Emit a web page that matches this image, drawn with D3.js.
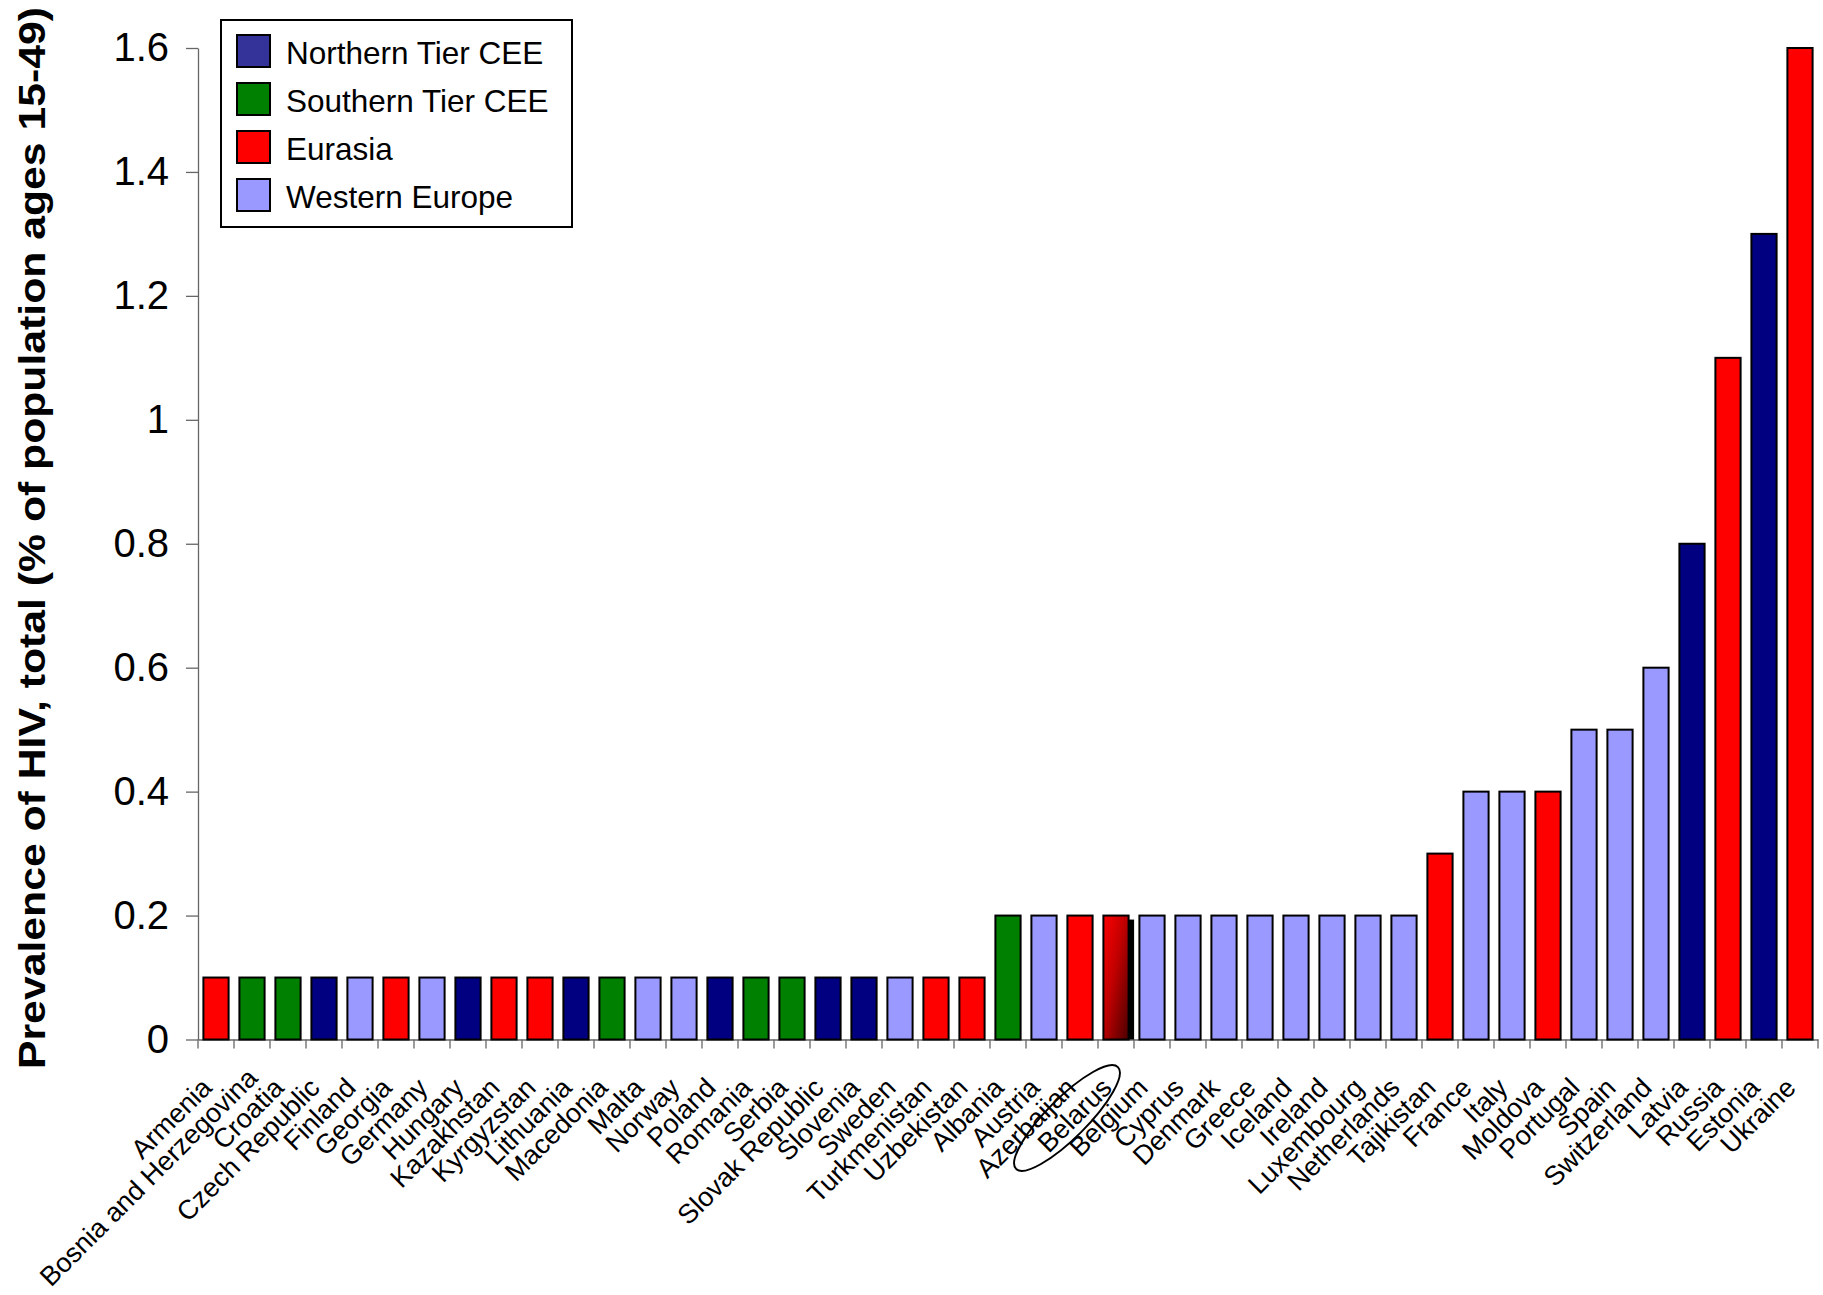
<!DOCTYPE html>
<html>
<head>
<meta charset="utf-8">
<script src="https://cdn.jsdelivr.net/npm/d3@7"></script>
<style>
  html, body { margin: 0; padding: 0; background: #fff; }
  svg { display: block; }
</style>
</head>
<body>
<svg id="chart" width="1823" height="1295"></svg>
<script>
// HIV prevalence by country, grouped into four regions
const countries = [
  "Armenia", "Bosnia and Herzegovina", "Croatia", "Czech Republic", "Finland",
  "Georgia", "Germany", "Hungary", "Kazakhstan", "Kyrgyzstan", "Lithuania",
  "Macedonia", "Malta", "Norway", "Poland", "Romania", "Serbia",
  "Slovak Republic", "Slovenia", "Sweden", "Turkmenistan", "Uzbekistan",
  "Albania", "Austria", "Azerbaijan", "Belarus", "Belgium", "Cyprus",
  "Denmark", "Greece", "Iceland", "Ireland", "Luxembourg", "Netherlands",
  "Tajikistan", "France", "Italy", "Moldova", "Portugal", "Spain",
  "Switzerland", "Latvia", "Russia", "Estonia", "Ukraine"
];

const prevalence = [
  0.1, 0.1, 0.1, 0.1, 0.1,
  0.1, 0.1, 0.1, 0.1, 0.1, 0.1,
  0.1, 0.1, 0.1, 0.1, 0.1, 0.1,
  0.1, 0.1, 0.1, 0.1, 0.1,
  0.2, 0.2, 0.2, 0.2, 0.2, 0.2,
  0.2, 0.2, 0.2, 0.2, 0.2, 0.2,
  0.3, 0.4, 0.4, 0.4, 0.5, 0.5,
  0.6, 0.8, 1.1, 1.3, 1.6
];

// 0 = Northern Tier CEE, 1 = Southern Tier CEE, 2 = Eurasia, 3 = Western Europe
const regionOf = [
  2, 1, 1, 0, 3,
  2, 3, 0, 2, 2, 0,
  1, 3, 3, 0, 1, 1,
  0, 0, 3, 2, 2,
  1, 3, 2, 2, 3, 3,
  3, 3, 3, 3, 3, 3,
  2, 3, 3, 2, 3, 3,
  3, 0, 2, 0, 2
];

const regionNames = ["Northern Tier CEE", "Southern Tier CEE", "Eurasia", "Western Europe"];

const yTickValues = [0, 0.2, 0.4, 0.6, 0.8, 1, 1.2, 1.4, 1.6];
const yTickLabels = ["0", "0.2", "0.4", "0.6", "0.8", "1", "1.2", "1.4", "1.6"];

const yTitle = "Prevalence of HIV, total (% of population ages 15-49)";
const highlighted = "Belarus";

// styling
const barFill = ["#000080", "#008000", "#FF0000", "#9999FF"];
const legendFill = ["#333399", "#008000", "#FF0000", "#9999FF"];
const FONT = "'Liberation Sans', Arial, Helvetica, sans-serif";
const AXIS = "#666";

const svg = d3.select("#chart");

const plot = { left: 198, right: 1818, top: 48, bottom: 1039.5 };

const x = d3.scaleBand()
  .domain(countries)
  .range([plot.left, plot.right])
  .paddingInner(0.3)
  .paddingOuter(0.15);

const y = d3.scaleLinear()
  .domain([0, 1.6])
  .range([plot.bottom, plot.top]);

const rows = countries.map((c, i) => ({ country: c, value: prevalence[i], region: regionOf[i] }));

// gradient for the emphasised bar
const defs = svg.append("defs");
const grad = defs.append("linearGradient")
  .attr("id", "emph")
  .attr("x1", 0).attr("y1", 0).attr("x2", 1).attr("y2", 1);
grad.append("stop").attr("offset", "0%").attr("stop-color", "#FF0000");
grad.append("stop").attr("offset", "45%").attr("stop-color", "#C00000");
grad.append("stop").attr("offset", "100%").attr("stop-color", "#4A0000");

// y axis
const yAxis = svg.append("g")
  .attr("transform", `translate(${plot.left},0)`)
  .call(d3.axisLeft(y)
    .tickValues(yTickValues)
    .tickFormat((d, i) => yTickLabels[i])
    .tickSize(12)
    .tickSizeOuter(0)
    .tickPadding(17));
yAxis.select(".domain").attr("stroke", AXIS).attr("stroke-width", 1.3);
yAxis.selectAll(".tick line").attr("stroke", AXIS).attr("stroke-width", 1.3);
yAxis.selectAll(".tick text")
  .attr("font-family", FONT)
  .attr("font-size", 40)
  .attr("fill", "#000");

// x axis line and category boundary ticks
const xAxis = svg.append("g")
  .attr("transform", `translate(0,${plot.bottom})`)
  .call(d3.axisBottom(x).tickSize(0).tickSizeOuter(0).tickFormat(""));
xAxis.select(".domain").attr("stroke", AXIS).attr("stroke-width", 1.3);
xAxis.selectAll(".tick").remove();
const bounds = d3.range(countries.length + 1).map(i => x.range()[0] + i * x.step());
xAxis.selectAll("line.bound")
  .data(bounds)
  .join("line")
  .attr("class", "bound")
  .attr("x1", d => d).attr("x2", d => d)
  .attr("y1", 0).attr("y2", 9)
  .attr("stroke", AXIS)
  .attr("stroke-width", 1.3);

// shadow behind the emphasised bar
svg.append("g")
  .selectAll("rect")
  .data(rows.filter(d => d.country === highlighted))
  .join("rect")
  .attr("x", d => x(d.country) + 5.5)
  .attr("y", d => y(d.value) + 4)
  .attr("width", x.bandwidth())
  .attr("height", d => y(0) - y(d.value) - 4)
  .attr("fill", "#000");

// bars
svg.append("g")
  .selectAll("rect")
  .data(rows)
  .join("rect")
  .attr("x", d => x(d.country))
  .attr("y", d => y(d.value))
  .attr("width", x.bandwidth())
  .attr("height", d => y(0) - y(d.value))
  .attr("fill", d => d.country === highlighted ? "url(#emph)" : barFill[d.region])
  .attr("stroke", "#000")
  .attr("stroke-width", 2);

// category labels, slanted; a label running past the page edge is slid back along its own line
const labelY = 1083;
const labelShift = -9;
const minLeft = 34;
const maxBottom = 1292;
const labels = svg.append("g")
  .selectAll("text")
  .data(rows)
  .join("text")
  .attr("transform", d => `translate(${x(d.country) + x.bandwidth() / 2 + labelShift},${labelY}) rotate(-45)`)
  .attr("text-anchor", "end")
  .attr("dominant-baseline", "central")
  .attr("font-family", FONT)
  .attr("font-size", 27)
  .attr("fill", "#000")
  .text(d => d.country);
labels.each(function (d) {
  const r = this.getBoundingClientRect();
  const over = Math.max(0, minLeft - r.left, r.bottom - maxBottom);
  if (over > 0) {
    const cx = x(d.country) + x.bandwidth() / 2 + labelShift + over;
    d3.select(this).attr("transform", `translate(${cx},${labelY - over}) rotate(-45)`);
  }
});

// ring round the emphasised label
const hx = x(highlighted) + x.bandwidth() / 2;
svg.append("ellipse")
  .attr("transform", `translate(${hx - 49},1118) rotate(-45)`)
  .attr("rx", 72)
  .attr("ry", 20)
  .attr("fill", "none")
  .attr("stroke", "#000")
  .attr("stroke-width", 2);

// y title
svg.append("text")
  .attr("transform", `translate(45,538) rotate(-90)`)
  .attr("text-anchor", "middle")
  .attr("font-family", FONT)
  .attr("font-weight", "bold")
  .attr("font-size", 36)
  .attr("textLength", 1062)
  .attr("lengthAdjust", "spacingAndGlyphs")
  .attr("fill", "#000")
  .text(yTitle);

// legend
const legend = svg.append("g");
legend.append("rect")
  .attr("x", 221).attr("y", 20)
  .attr("width", 351).attr("height", 207)
  .attr("fill", "#fff")
  .attr("stroke", "#000")
  .attr("stroke-width", 2);
const item = legend.selectAll("g.item")
  .data(regionNames)
  .join("g")
  .attr("class", "item")
  .attr("transform", (d, i) => `translate(0,${51 + i * 48})`);
item.append("rect")
  .attr("x", 237).attr("y", -16)
  .attr("width", 33).attr("height", 32)
  .attr("fill", (d, i) => legendFill[i])
  .attr("stroke", "#000")
  .attr("stroke-width", 2);
item.append("text")
  .attr("x", 286).attr("y", 2)
  .attr("dominant-baseline", "central")
  .attr("font-family", FONT)
  .attr("font-size", 31.5)
  .attr("fill", "#000")
  .text(d => d);
</script>
</body>
</html>
